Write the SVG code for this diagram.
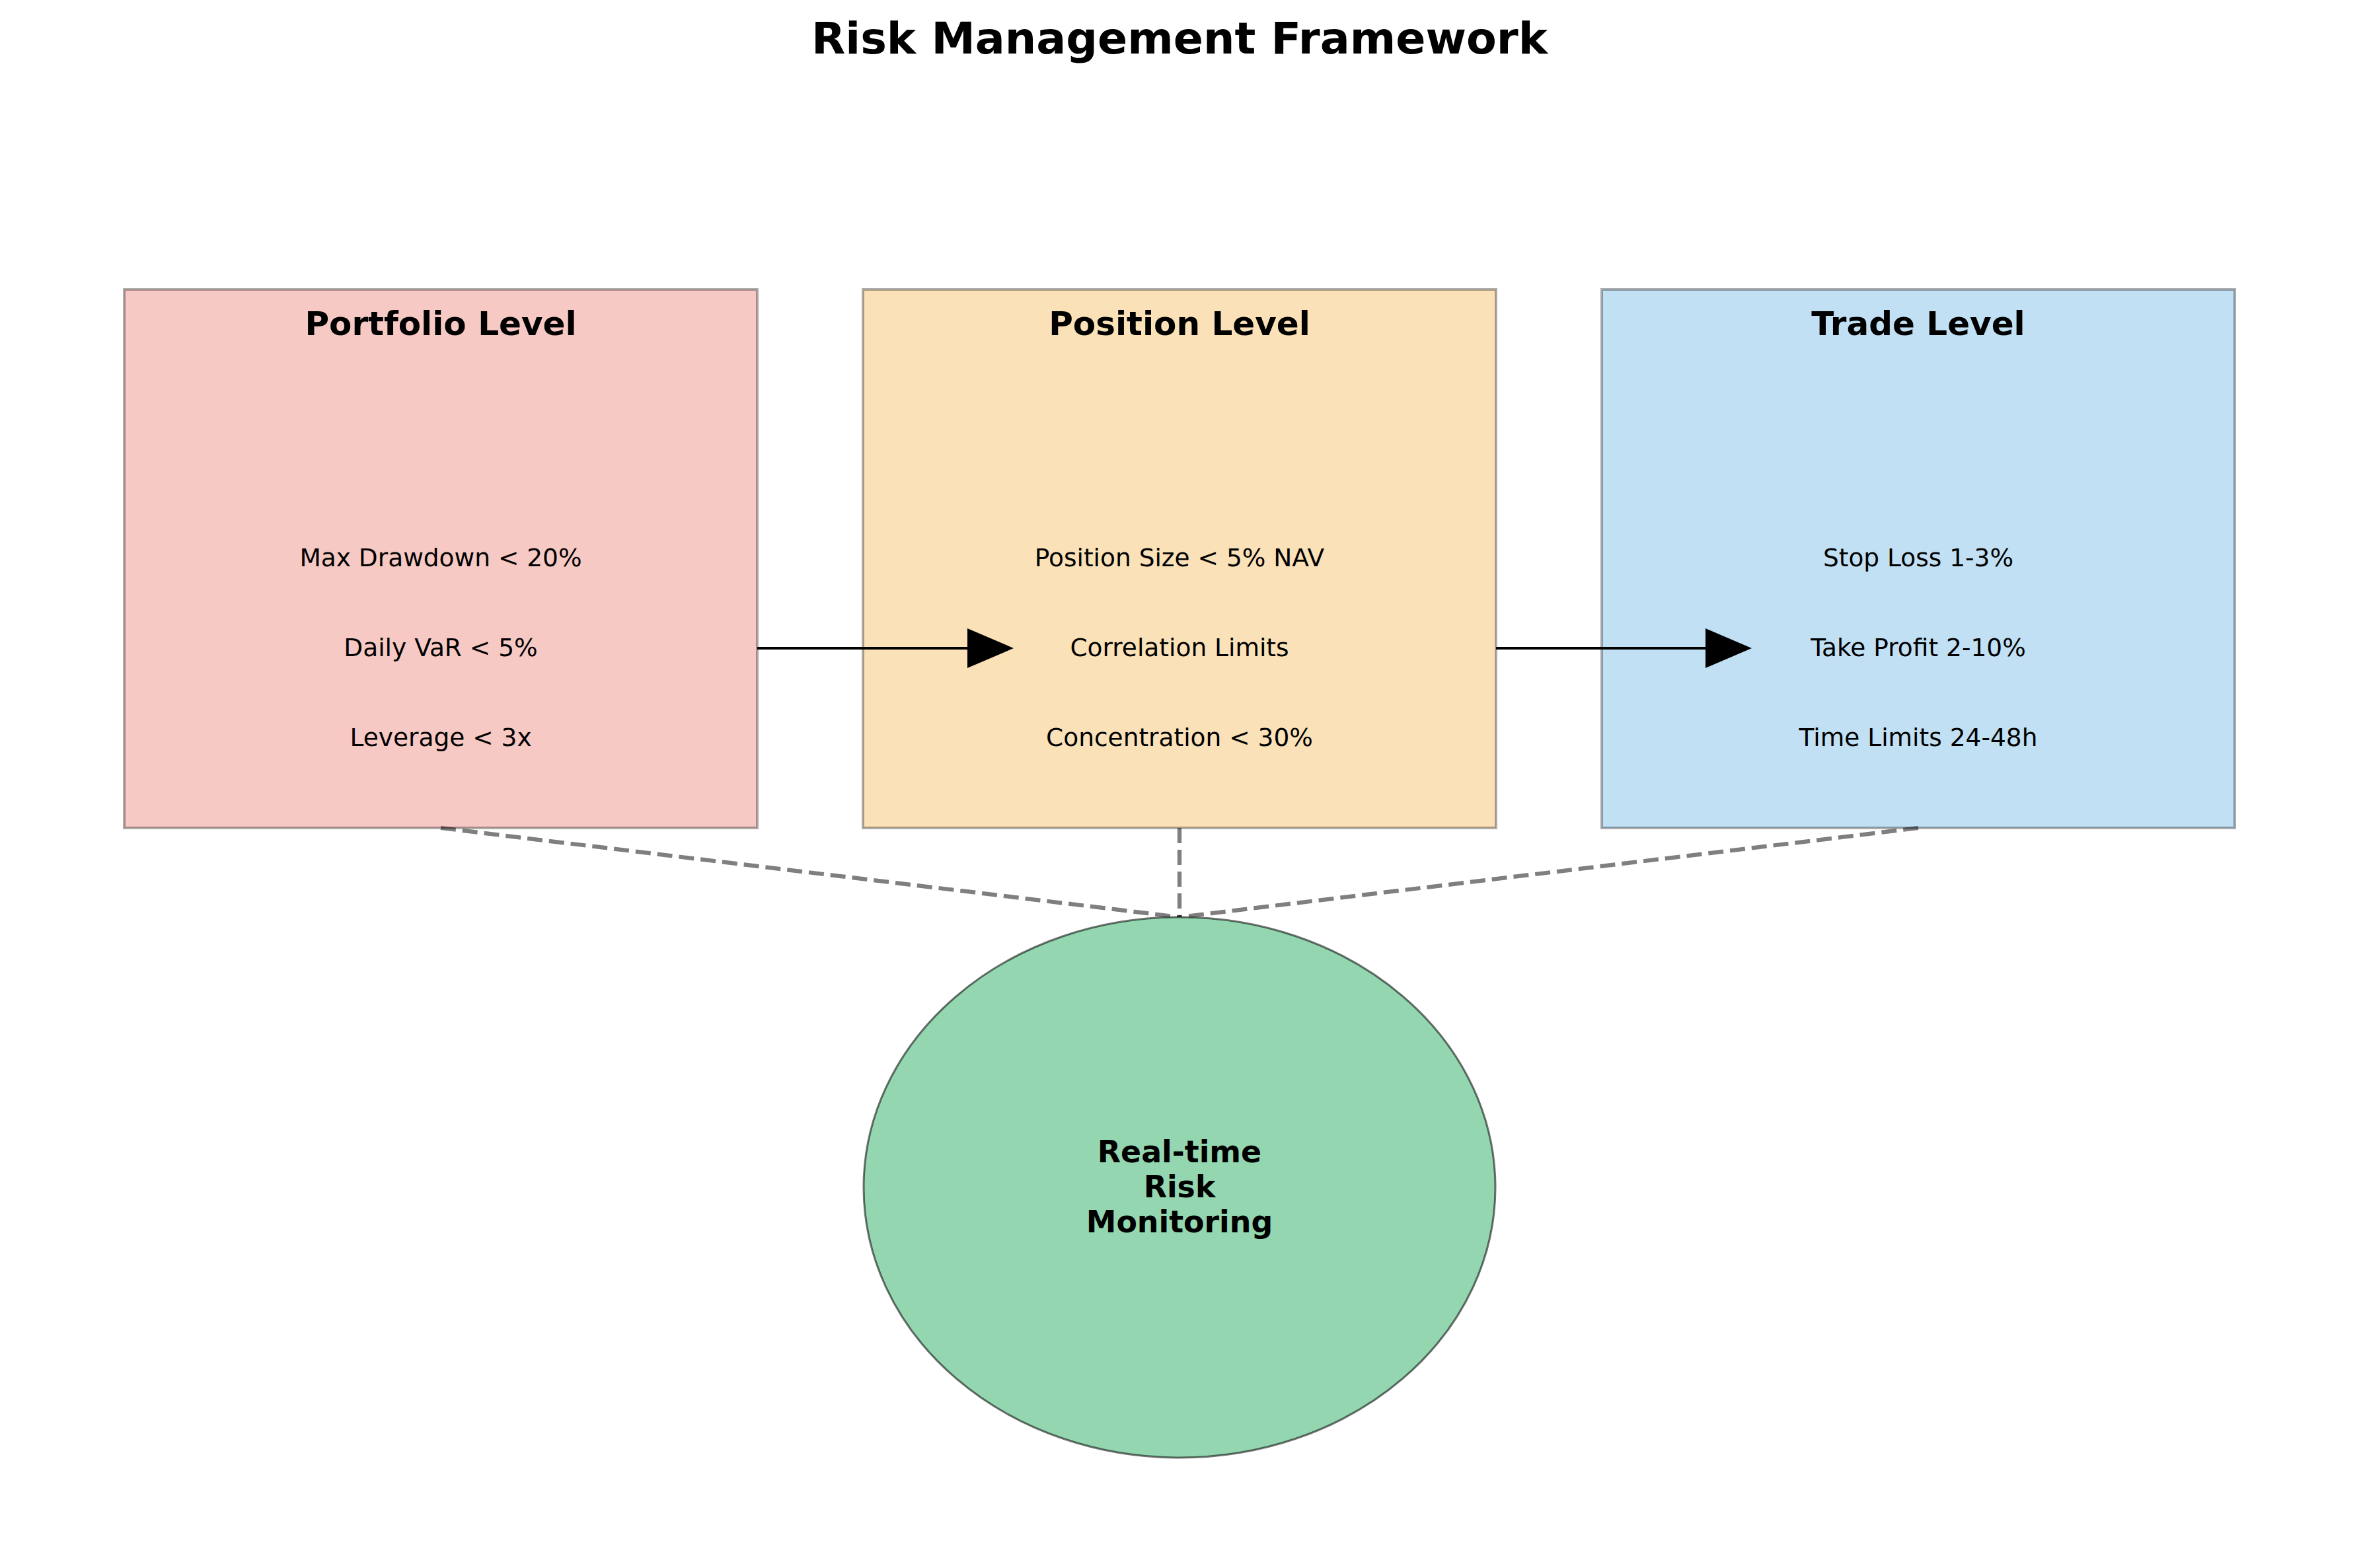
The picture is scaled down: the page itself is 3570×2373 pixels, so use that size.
<svg xmlns="http://www.w3.org/2000/svg" width="3570" height="2373" viewBox="0 0 3570 2373">
<style>
text{font-family:"DejaVu Sans","Liberation Sans",sans-serif;fill:#000;text-anchor:middle}
.title{font-size:66.7px;font-weight:bold}
.head{font-size:50px;font-weight:bold}
.item{font-size:37.5px}
.ell{font-size:45.8px;font-weight:bold}
.box{stroke:#000;stroke-opacity:0.32;stroke-width:4}
.dash{stroke:#000;stroke-opacity:0.5;stroke-width:6.25;stroke-dasharray:23 10;fill:none}
.arr{stroke:#000;stroke-width:4;fill:none}
</style>
<rect width="3570" height="2373" fill="#fff"/>
<text class="title" x="1785" y="81">Risk Management Framework</text>
<g id="portfolio">
<rect class="box" x="188" y="438" width="958" height="815" fill="#f7c9c4"/>
<text class="head" x="667" y="507">Portfolio Level</text>
<text class="item" x="667" y="857">Max Drawdown &lt; 20%</text>
<text class="item" x="667" y="993">Daily VaR &lt; 5%</text>
<text class="item" x="667" y="1129">Leverage &lt; 3x</text>
</g>
<g id="position">
<rect class="box" x="1306" y="438" width="958" height="815" fill="#fae1b8"/>
<text class="head" x="1785" y="507">Position Level</text>
<text class="item" x="1785" y="857">Position Size &lt; 5% NAV</text>
<text class="item" x="1785" y="993">Correlation Limits</text>
<text class="item" x="1785" y="1129">Concentration &lt; 30%</text>
</g>
<g id="trade">
<rect class="box" x="2424" y="438" width="958" height="815" fill="#c2e0f4"/>
<text class="head" x="2903" y="507">Trade Level</text>
<text class="item" x="2903" y="857">Stop Loss 1-3%</text>
<text class="item" x="2903" y="993">Take Profit 2-10%</text>
<text class="item" x="2903" y="1129">Time Limits 24-48h</text>
</g>
<g id="connectors">
<line class="arr" x1="1146" y1="981" x2="1466" y2="981"/>
<polygon points="1464,951 1534,981 1464,1011" fill="#000"/>
<line class="arr" x1="2264" y1="981" x2="2583" y2="981"/>
<polygon points="2581,951 2651,981 2581,1011" fill="#000"/>
<line class="dash" x1="667" y1="1253" x2="1785" y2="1388"/>
<line class="dash" x1="1785" y1="1253" x2="1785" y2="1388"/>
<line class="dash" x1="2903" y1="1253" x2="1785" y2="1388"/>
</g>
<g id="monitoring">
<ellipse cx="1785" cy="1797" rx="478" ry="409" fill="#93d6af" stroke="#000" stroke-opacity="0.55" stroke-width="3"/>
<text class="ell" x="1785" y="1759">Real-time</text>
<text class="ell" x="1785" y="1812">Risk</text>
<text class="ell" x="1785" y="1865">Monitoring</text>
</g>
</svg>
